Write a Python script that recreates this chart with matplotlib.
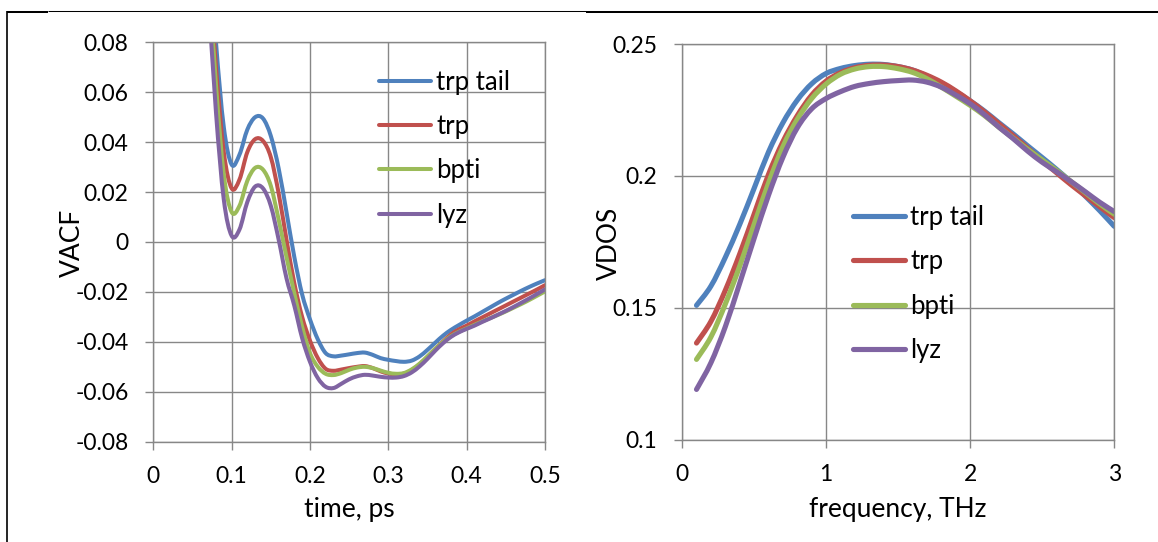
import numpy as np
import matplotlib
matplotlib.use("Agg")
import matplotlib.pyplot as plt
from matplotlib.path import Path
from matplotlib.patches import PathPatch
from matplotlib.lines import Line2D

plt.rcParams['font.family'] = ['Lato', 'DejaVu Sans']

# ---------------- data ----------------
series_names = ["trp tail", "trp", "bpti", "lyz"]
series_colors = ["#4F81BD", "#C0504D", "#9BBB59", "#8064A2"]

time_ps = [0.07, 0.08, 0.09, 0.10, 0.11, 0.12, 0.13, 0.14, 0.15, 0.16,
           0.17, 0.18, 0.19, 0.20, 0.21, 0.22, 0.23, 0.24, 0.25, 0.26,
           0.27, 0.28, 0.29, 0.30, 0.31, 0.32, 0.33, 0.34, 0.35, 0.36,
           0.37, 0.38, 0.39, 0.40, 0.41, 0.42, 0.43, 0.44, 0.45, 0.46,
           0.47, 0.48, 0.49, 0.50]

vacf_trp_tail = [0.125, 0.080, 0.046, 0.031, 0.035, 0.045, 0.050, 0.0495, 0.0425, 0.0295,
                 0.0120, -0.0060, -0.0210, -0.0310, -0.0390, -0.0445, -0.0458, -0.0455, -0.0450, -0.0445,
                 -0.0443, -0.0452, -0.0465, -0.0472, -0.0477, -0.0480, -0.0475, -0.0458, -0.0432, -0.0403,
                 -0.0375, -0.0352, -0.0333, -0.0315, -0.0298, -0.0280, -0.0262, -0.0244, -0.0227, -0.0211,
                 -0.0195, -0.0180, -0.0166, -0.0153]
vacf_trp = [0.115, 0.070, 0.036, 0.0215, 0.0250, 0.0360, 0.0412, 0.0405, 0.0340, 0.0195,
            0.0010, -0.0165, -0.0300, -0.0395, -0.0465, -0.0508, -0.0516, -0.0511, -0.0505, -0.0500,
            -0.0497, -0.0505, -0.0518, -0.0527, -0.0530, -0.0527, -0.0513, -0.0490, -0.0460, -0.0428,
            -0.0398, -0.0370, -0.0350, -0.0335, -0.0318, -0.0302, -0.0286, -0.0270, -0.0254, -0.0238,
            -0.0222, -0.0206, -0.0190, -0.0173]
vacf_bpti = [0.110, 0.063, 0.027, 0.0120, 0.0145, 0.0245, 0.0297, 0.0290, 0.0225, 0.0090,
             -0.0060, -0.0205, -0.0340, -0.0445, -0.0500, -0.0528, -0.0533, -0.0525, -0.0512, -0.0503,
             -0.0500, -0.0505, -0.0515, -0.0524, -0.0528, -0.0525, -0.0510, -0.0487, -0.0458, -0.0428,
             -0.0400, -0.0377, -0.0360, -0.0346, -0.0332, -0.0318, -0.0305, -0.0292, -0.0278, -0.0263,
             -0.0248, -0.0232, -0.0215, -0.0198]
vacf_lyz = [0.100, 0.052, 0.017, 0.0025, 0.0050, 0.0160, 0.0222, 0.0215, 0.0145, 0.0010,
            -0.0145, -0.0255, -0.0385, -0.0480, -0.0545, -0.0580, -0.0585, -0.0568, -0.0550, -0.0538,
            -0.0532, -0.0535, -0.0540, -0.0543, -0.0543, -0.0537, -0.0522, -0.0498, -0.0468, -0.0435,
            -0.0405, -0.0380, -0.0362, -0.0348, -0.0335, -0.0320, -0.0306, -0.0291, -0.0276, -0.0260,
            -0.0243, -0.0226, -0.0208, -0.0190]

freq_thz = [0.1, 0.2, 0.3, 0.4, 0.5, 0.6, 0.7, 0.8, 0.9, 1.0,
            1.1, 1.2, 1.3, 1.4, 1.5, 1.6, 1.7, 1.8, 1.9, 2.0,
            2.1, 2.2, 2.3, 2.4, 2.5, 2.6, 2.7, 2.8, 2.9, 3.0]

vdos_trp_tail = [0.1509, 0.1582, 0.1691, 0.1816, 0.1953, 0.2091, 0.2202, 0.2288, 0.2350, 0.2389,
                 0.2408, 0.2419, 0.2424, 0.2423, 0.2415, 0.2402, 0.2379, 0.2353, 0.2320, 0.2285,
                 0.2246, 0.2202, 0.2159, 0.2114, 0.2070, 0.2025, 0.1977, 0.1923, 0.1868, 0.1809]
vdos_trp = [0.1366, 0.1448, 0.1566, 0.1704, 0.1855, 0.2006, 0.2130, 0.2229, 0.2307, 0.2360,
            0.2392, 0.2411, 0.2420, 0.2421, 0.2415, 0.2402, 0.2382, 0.2356, 0.2323, 0.2285,
            0.2243, 0.2198, 0.2152, 0.2105, 0.2058, 0.2012, 0.1967, 0.1925, 0.1883, 0.1842]
vdos_bpti = [0.1304, 0.1389, 0.1514, 0.1658, 0.1816, 0.1973, 0.2111, 0.2215, 0.2294, 0.2349,
             0.2386, 0.2406, 0.2415, 0.2415, 0.2407, 0.2393, 0.2369, 0.2337, 0.2303, 0.2268,
             0.2229, 0.2185, 0.2143, 0.2101, 0.2061, 0.2021, 0.1979, 0.1937, 0.1894, 0.1855]
vdos_lyz = [0.1190, 0.1291, 0.1428, 0.1593, 0.1763, 0.1927, 0.2071, 0.2183, 0.2255, 0.2294,
            0.2320, 0.2340, 0.2351, 0.2358, 0.2362, 0.2364, 0.2356, 0.2337, 0.2307, 0.2274,
            0.2232, 0.2185, 0.2141, 0.2094, 0.2052, 0.2016, 0.1979, 0.1940, 0.1900, 0.1865]

vacf_xticks = [0, 0.1, 0.2, 0.3, 0.4, 0.5]
vacf_xticklabels = ["0", "0.1", "0.2", "0.3", "0.4", "0.5"]
vacf_yticks = [-0.08, -0.06, -0.04, -0.02, 0, 0.02, 0.04, 0.06, 0.08]
vacf_yticklabels = ["-0.08", "-0.06", "-0.04", "-0.02", "0", "0.02", "0.04", "0.06", "0.08"]
vdos_xticks = [0, 1, 2, 3]
vdos_xticklabels = ["0", "1", "2", "3"]
vdos_yticks = [0.1, 0.15, 0.2, 0.25]
vdos_yticklabels = ["0.1", "0.15", "0.2", "0.25"]

# ---------------- helpers ----------------
W, H = 1158, 542
FS_TICK = 16.5
FS_LABEL = 19
FS_LEG = 18.5
GRID = "#878787"


def smooth_path(x, y):
    """Cubic Bezier path through the points (smoothed-line style)."""
    x = np.asarray(x, float)
    y = np.asarray(y, float)
    xp = np.concatenate([[x[0]], x, [x[-1]]])
    yp = np.concatenate([[y[0]], y, [y[-1]]])
    verts = [(x[0], y[0])]
    codes = [Path.MOVETO]
    for i in range(len(x) - 1):
        p0 = np.array([xp[i], yp[i]])
        p1 = np.array([xp[i + 1], yp[i + 1]])
        p2 = np.array([xp[i + 2], yp[i + 2]])
        p3 = np.array([xp[i + 3], yp[i + 3]])
        c1 = p1 + (p2 - p0) / 6.0
        c2 = p2 - (p3 - p1) / 6.0
        verts += [tuple(c1), tuple(c2), tuple(p2)]
        codes += [Path.CURVE4] * 3
    return Path(verts, codes)


def style_axes(ax):
    ax.grid(True, color=GRID, lw=1.0)
    ax.set_axisbelow(True)
    for sp in ax.spines.values():
        sp.set_color(GRID)
        sp.set_linewidth(1.0)
    ax.tick_params(direction="out", length=5.8, width=1.0, color=GRID,
                   labelcolor="black", labelsize=FS_TICK, pad=12,
                   top=False, right=False)


def px_axes(x0, y0, x1, y1):
    return [x0 / W, 1 - y1 / H, (x1 - x0) / W, (y1 - y0) / H]


def add_legend(ax, lw, anchor):
    handles = [Line2D([], [], color=c, lw=lw, solid_capstyle="round") for c in series_colors]
    ax.legend(handles, series_names, loc="upper left", bbox_to_anchor=anchor,
              frameon=False, fontsize=FS_LEG, handlelength=2.02, handletextpad=0.22,
              labelspacing=0.75, borderpad=0, borderaxespad=0)


fig = plt.figure(figsize=(W / 100, H / 100), dpi=100, facecolor="white")

# ---------------- VACF panel ----------------
ax1 = fig.add_axes(px_axes(153.3, 42.3, 545.0, 441.7))
style_axes(ax1)
vacf_series = [vacf_trp_tail, vacf_trp, vacf_bpti, vacf_lyz]
for vals, col in zip(vacf_series, series_colors):
    ax1.add_patch(PathPatch(smooth_path(time_ps, vals), fill=False, edgecolor=col,
                            lw=2.9, capstyle="round", joinstyle="round"))
ax1.set_xlim(0, 0.5)
ax1.set_ylim(-0.08, 0.08)
ax1.set_xticks(vacf_xticks)
ax1.set_xticklabels(vacf_xticklabels)
ax1.set_yticks(vacf_yticks)
ax1.set_yticklabels(vacf_yticklabels)
add_legend(ax1, 2.9, (0.576, 0.931))
fig.text(72 / W, 1 - 243 / H, "VACF", rotation=90, ha="center", va="center", fontsize=FS_LABEL)
fig.text(349 / W, 1 - 510 / H, "time, ps", ha="center", va="center", fontsize=FS_LABEL)

# ---------------- VDOS panel ----------------
ax2 = fig.add_axes(px_axes(682.1, 44.2, 1114.2, 439.5))
style_axes(ax2)
vdos_series = [vdos_trp_tail, vdos_trp, vdos_bpti, vdos_lyz]
for vals, col in zip(vdos_series, series_colors):
    ax2.add_patch(PathPatch(smooth_path(freq_thz, vals), fill=False, edgecolor=col,
                            lw=3.7, capstyle="round", joinstyle="round"))
ax2.set_xlim(0, 3)
ax2.set_ylim(0.1, 0.25)
ax2.set_xticks(vdos_xticks)
ax2.set_xticklabels(vdos_xticklabels)
ax2.set_yticks(vdos_yticks)
ax2.set_yticklabels(vdos_yticklabels)
add_legend(ax2, 3.7, (0.395, 0.593))
fig.text(609 / W, 1 - 243 / H, "VDOS", rotation=90, ha="center", va="center", fontsize=FS_LABEL)
fig.text(898 / W, 1 - 510 / H, "frequency, THz", ha="center", va="center", fontsize=FS_LABEL)

# ---------------- frame lines ----------------
def frame_line(x0, y0, x1, y1, lw):
    fig.add_artist(Line2D([x0 / W, x1 / W], [1 - y0 / H, 1 - y1 / H],
                          transform=fig.transFigure, color="black", lw=lw,
                          solid_capstyle="butt"))

frame_line(7.5, 10.5, 7.5, 542, 1.2)
frame_line(6.5, 11.5, 48, 11.5, 1.45)
frame_line(48, 11, 586, 11, 0.75)
frame_line(586, 12, 1158, 12, 1.45)

fig.savefig("out.png", dpi=100, facecolor="white")
